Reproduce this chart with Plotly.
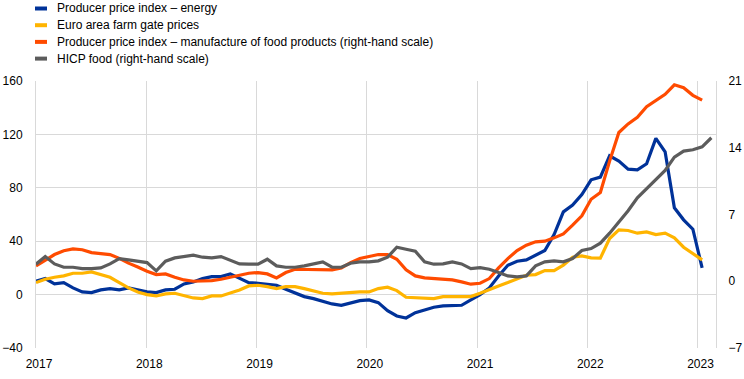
import plotly.graph_objects as go

# ---------------- data (monthly, Jan 2017 onwards) ----------------
years = ["2017", "2018", "2019", "2020", "2021", "2022", "2023"]

ppi_energy = [10, 12, 8, 9, 5, 2, 1.5, 3.5, 4.5, 3.5, 5, 3.5,
              2, 1.5, 3.5, 4, 8, 9.5, 12, 13.5, 13.5, 15.5, 12, 9,
              8.5, 8, 7, 4, 1, -1.5, -3, -5, -7, -8, -6.5, -4.5,
              -4, -6, -12, -16, -17.5, -13.5, -11.5, -9.5, -8.5, -8, -8, -4,
              0, 5, 14, 22, 25, 26, 29.5, 33, 45, 62, 67, 75,
              86, 88, 104, 100, 94, 93.5, 98, 117, 107, 65, 56, 49,
              20]

farm_gate = [9, 11.5, 13, 14, 16, 16, 17, 15, 13, 9, 5, 2,
             0, -1, 0.5, 1, -1, -2.5, -3, -1, -1, 1, 3.5, 6.5,
             7, 6, 4.5, 6, 6, 4.5, 3, 1, 0.5, 1, 2, 2,
             2, 4.5, 5.5, 3, -2, -2.5, -3, -3, -1.5, -1.5, -2, -1.5,
             1, 4, 6.5, 9, 12, 14.5, 15, 18, 18, 22, 28, 29,
             27.5, 27.3, 42, 48.5, 48, 46, 47, 45, 46, 42.5, 35.5, 30.5,
             26]

ppi_food = [1.6, 2.2, 2.8, 3.2, 3.4, 3.3, 3.0, 2.9, 2.8, 2.4, 1.9, 1.5,
            1.05, 0.7, 0.77, 0.42, 0.14, 0.0, 0.0, 0.07, 0.21, 0.42, 0.63, 0.84,
            0.91, 0.77, 0.35, 0.91, 1.26, 1.26, 1.26, 1.19, 1.19, 1.4, 1.96, 2.38,
            2.59, 2.8, 2.8, 2.31, 1.19, 0.56, 0.35, 0.28, 0.28, 0.14, -0.07, -0.31,
            -0.21, 0.28, 1.4, 2.38, 3.22, 3.78, 4.13, 4.2, 4.55, 4.97, 5.88, 6.86,
            8.6, 9.3, 12.6, 15.6, 16.5, 17.2, 18.3, 19.0, 19.6, 20.6, 20.3, 19.5,
            19.0]

hicp_food = [1.79, 2.59, 1.82, 1.47, 1.47, 1.33, 1.33, 1.4, 1.82, 2.38, 2.24, 2.1,
             1.96, 1.09, 2.1, 2.45, 2.59, 2.73, 2.52, 2.45, 2.59, 2.17, 1.82, 1.79,
             1.79, 2.31, 1.61, 1.47, 1.47, 1.61, 1.82, 2.03, 1.47, 1.47, 1.89, 2.03,
             2.03, 2.14, 2.52, 3.57, 3.36, 3.15, 2.03, 1.79, 1.82, 2.03, 1.82, 1.33,
             1.43, 1.26, 0.91, 0.56, 0.46, 0.56, 1.61, 2.03, 2.13, 2.04, 2.38, 3.22,
             3.43, 3.99, 5.04, 6.16, 7.39, 8.75, 9.73, 10.64, 11.62, 13.02, 13.65, 13.79,
             14.1, 15.05]

left_ticks = [-40, 0, 40, 80, 120, 160]
right_ticks = [-7, 0, 7, 14, 21]

names = ["Producer price index \u2013 energy",
         "Euro area farm gate prices",
         "Producer price index \u2013 manufacture of food products (right-hand scale)",
         "HICP food (right-hand scale)"]
colors = ["#003299", "#ffb400", "#ff4b00", "#5c5c5c"]

# ---------------- figure ----------------
W, H = 744, 379
ML, MR, MT = 36, 28, 81
PW = W - ML - MR
PH = 267
MB = H - MT - PH

fig = go.Figure()
series = [(ppi_energy, "y"), (farm_gate, "y"), (ppi_food, "y2"), (hicp_food, "y2")]
for (vals, ax), name, col in zip(series, names, colors):
    fig.add_trace(go.Scatter(
        x=list(range(len(vals))), y=vals, yaxis=ax, name=name, mode="lines",
        line=dict(color=col, width=3.2), showlegend=False,
        hoverinfo="x+y+name"))

tick_pos = [i * 71.5 / 6 for i in range(len(years))]
grid = "#d9d9d9"
font = dict(family="Liberation Sans, Arial, sans-serif", size=12, color="#000000")

fig.update_layout(
    width=W, height=H,
    margin=dict(l=ML, r=MR, t=MT, b=MB, autoexpand=False),
    paper_bgcolor="white", plot_bgcolor="white",
    font=font,
    xaxis=dict(range=[0, 73.5], tickvals=tick_pos, ticktext=years,
               showgrid=True, gridcolor=grid, gridwidth=1,
               zeroline=False, showline=False, ticks="",
               ticklabelstandoff=7, ticklabelshift=3, tickfont=font),
    yaxis=dict(range=[-40, 160], tickvals=left_ticks,
               showgrid=True, gridcolor=grid, gridwidth=1,
               zeroline=False, showline=True, linecolor=grid, linewidth=1,
               ticks="", ticklabelstandoff=10, tickfont=font),
    yaxis2=dict(range=[-7, 21], tickvals=right_ticks, overlaying="y", side="right",
                showgrid=False, zeroline=False, showline=True, linecolor=grid,
                linewidth=1, ticks="", ticklabelstandoff=9, tickfont=font),
)

# manual legend (short thick line symbols), positions given in page pixels
rows_px = [8.5, 25.2, 41.9, 58.6]
def px_x(px):
    return (px - ML) / PW
def px_y(py):
    return (MT + PH - py) / PH

for name, col, ry in zip(names, colors, rows_px):
    fig.add_shape(type="line", xref="paper", yref="paper",
                  x0=px_x(35), x1=px_x(47), y0=px_y(ry), y1=px_y(ry),
                  line=dict(color=col, width=4))
    fig.add_annotation(xref="paper", yref="paper", x=px_x(55), y=px_y(ry),
                       text=name, showarrow=False, xanchor="left", yanchor="middle",
                       font=font)

# remove the browser's default 8px body margin so the figure sits at the page origin
fig.write_html("out.html",
               config={"displayModeBar": False},
               post_script="document.body.style.margin='0px';document.body.style.padding='0px';")
